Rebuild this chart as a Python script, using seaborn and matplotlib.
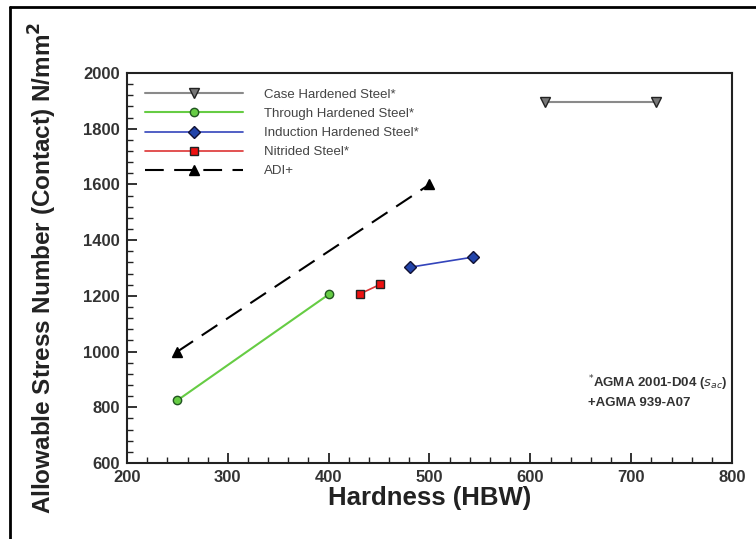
import numpy as np
import pandas as pd
import matplotlib
matplotlib.use("Agg")
import matplotlib.pyplot as plt
from matplotlib.lines import Line2D
from matplotlib.ticker import MultipleLocator
import seaborn as sns

# Data
series_names = ["Case Hardened Steel*", "Through Hardened Steel*", "Induction Hardened Steel*",
                "Nitrided Steel*", "ADI+"]
case_x = [615, 725]
case_y = [1895, 1895]
through_x = [250, 400]
through_y = [825, 1205]
induction_x = [481, 543]
induction_y = [1303, 1339]
nitrided_x = [431, 451]
nitrided_y = [1207, 1241]
adi_x = [250, 500]
adi_y = [1000, 1600]

sns.set_style("ticks")
plt.rcParams['font.family'] = ['Liberation Sans', 'DejaVu Sans']

fig = plt.figure(figsize=(7.56, 5.39), dpi=100)
ax = fig.add_axes([127/756, 1-463/539, (732-127)/756, (463-73)/539])

styles = [
    dict(x=case_x, y=case_y, color="#8a8a8a", marker="v", mfc="#777777", mec="#222222", ls="-", lw=1.5, ms=7),
    dict(x=through_x, y=through_y, color="#66cc44", marker="o", mfc="#66cc44", mec="#225522", ls="-", lw=1.5, ms=6),
    dict(x=induction_x, y=induction_y, color="#3344bb", marker="D", mfc="#2244aa", mec="#111133", ls="-", lw=1.2, ms=6),
    dict(x=nitrided_x, y=nitrided_y, color="#dd3333", marker="s", mfc="#ee1111", mec="#222222", ls="-", lw=1.2, ms=6),
    dict(x=adi_x, y=adi_y, color="black", marker="^", mfc="black", mec="black", ls=(0, (9, 5)), lw=1.5, ms=7),
]

handles = []
for name, st in zip(series_names, styles):
    df = pd.DataFrame({"x": st["x"], "y": st["y"]})
    sns.lineplot(data=df, x="x", y="y", ax=ax, color=st["color"], lw=st["lw"],
                 linestyle=st["ls"], marker=st["marker"], markersize=st["ms"],
                 markerfacecolor=st["mfc"], markeredgecolor=st["mec"], markeredgewidth=1,
                 legend=False)
    handles.append(Line2D([0], [0], color=st["color"], lw=st["lw"], linestyle=st["ls"],
                          marker=st["marker"], markersize=st["ms"], markerfacecolor=st["mfc"],
                          markeredgecolor=st["mec"], label=name))

ax.set_xlim(200, 800)
ax.set_ylim(600, 2000)
ax.xaxis.set_major_locator(MultipleLocator(100))
ax.xaxis.set_minor_locator(MultipleLocator(20))
ax.yaxis.set_major_locator(MultipleLocator(200))
ax.yaxis.set_minor_locator(MultipleLocator(40))
ax.tick_params(which="both", direction="in", color="#222222")
ax.tick_params(which="major", length=7, width=1.3, labelsize=12, labelcolor="#333333", pad=5)
ax.tick_params(which="minor", length=4, width=1.0)
for lbl in ax.get_xticklabels() + ax.get_yticklabels():
    lbl.set_fontweight("bold")
for sp in ax.spines.values():
    sp.set_visible(True)
    sp.set_linewidth(1.5)
    sp.set_color("#222222")

ax.set_xlabel("Hardness (HBW)", fontsize=18.5, fontweight="bold", color="#222222")
ax.xaxis.set_label_coords(0.5, -0.06)
ax.set_ylabel("Allowable Stress Number (Contact) N/mm$^\\mathbf{2}$", fontsize=17.5,
              fontweight="bold", color="#222222")
ax.yaxis.set_label_coords(-0.112, 0.501)

leg = ax.legend(handles=handles, loc="upper left", bbox_to_anchor=(0.01, 0.99), frameon=False,
                fontsize=9.5, handlelength=7.4, handletextpad=1.6, labelspacing=0.52,
                labelcolor="#444444")

ax.text(0.762, 0.195, "$^{*}$AGMA 2001-D04 ($s_{ac}$)", transform=ax.transAxes, fontsize=9.5,
        fontweight="bold", color="#333333")
ax.text(0.762, 0.145, "+AGMA 939-A07", transform=ax.transAxes, fontsize=9.5,
        fontweight="bold", color="#333333")

# outer frame lines
fig.add_artist(Line2D([10/756, 1.0], [1-7/539, 1-7/539], transform=fig.transFigure, color="black", lw=2))
fig.add_artist(Line2D([10/756, 10/756], [0, 1-7/539], transform=fig.transFigure, color="black", lw=2))

fig.savefig("out.png", dpi=100)
